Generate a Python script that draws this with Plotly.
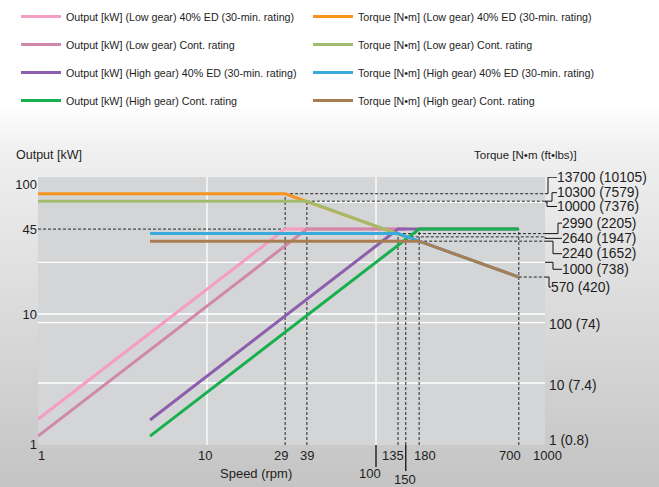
import math
import plotly.graph_objects as go

# ---------------- data ----------------
speed_low_40 = [1, 29, 150]
output_low_40 = [1.55, 45, 45]
speed_low_cont = [1, 39, 150]
output_low_cont = [1.15, 45, 45]
speed_high_40 = [4.6, 135, 700]
output_high_40 = [1.53, 45, 45]
speed_high_cont = [4.6, 180, 700]
output_high_cont = [1.15, 45, 45]

tq_speed_low_40 = [1, 29, 150]
torque_low_40 = [13700, 13700, 2640]
tq_speed_low_cont = [1, 39, 150]
torque_low_cont = [10300, 10300, 2640]
tq_speed_high_40 = [4.6, 135, 700]
torque_high_40 = [2990, 2990, 570]
tq_speed_high_cont = [4.6, 180, 700]
torque_high_cont = [2240, 2240, 570]

x_tick_vals = [1, 10, 29, 39, 135, 180, 700, 1000]
x_low_tick_vals = [100, 150]
x_grid_vals = [10, 100]
y_tick_vals = [1, 10, 45, 100]
y_grid_vals = [10]
torque_label_vals = [13700, 10300, 10000, 2990, 2640, 2240, 1000, 570, 100, 10, 1]
torque_label_text = ["13700 (10105)", "10300 (7579)", "10000 (7376)", "2990 (2205)",
                     "2640 (1947)", "2240 (1652)", "1000 (738)", "570 (420)",
                     "100 (74)", "10 (7.4)", "1 (0.8)"]
torque_grid_vals = [10, 100, 1000, 10000]
output_ref = 45

names_out = ["Output [kW] (Low gear) 40% ED (30-min. rating)",
             "Output [kW] (Low gear) Cont. rating",
             "Output [kW] (High gear) 40% ED (30-min. rating)",
             "Output [kW] (High gear) Cont. rating"]
names_tq = ["Torque [N\u2022m] (Low gear) 40% ED (30-min. rating)",
            "Torque [N\u2022m] (Low gear) Cont. rating",
            "Torque [N\u2022m] (High gear) 40% ED (30-min. rating)",
            "Torque [N\u2022m] (High gear) Cont. rating"]

# ---------------- style ----------------
W, H = 659, 487
ML, MR, MT, MB = 38, 114, 177, 42
PH = H - MT - MB
PW = W - ML - MR
FONT = "Liberation Sans, Arial, sans-serif"
TXT = "#1e1e1e"
DASH = dict(color="#262626", width=1, dash="3px,2px")
GRID = dict(color="#ffffff", width=1.3)
c_out = ["#f59dc3", "#d088a8", "#8c5ead", "#17b04e"]
c_tq = ["#f7941e", "#a0bb6c", "#3aa9db", "#a97d52"]
X_RANGE = [0, 3]
Y_RANGE = [-0.0077, 2.054]
Y2_RANGE = [-0.028, 4.414]

fig = go.Figure()

tq_series = [(tq_speed_low_40, torque_low_40), (tq_speed_low_cont, torque_low_cont),
             (tq_speed_high_40, torque_high_40), (tq_speed_high_cont, torque_high_cont)]
out_series = [(speed_low_40, output_low_40), (speed_low_cont, output_low_cont),
              (speed_high_40, output_high_40), (speed_high_cont, output_high_cont)]

for i, (sx, sy) in enumerate(tq_series):
    fig.add_trace(go.Scatter(x=sx, y=sy, yaxis="y2", mode="lines", name=names_tq[i],
                             line=dict(color=c_tq[i], width=3),
                             legend="legend2", legendgroup="t%d" % i))
for i, (sx, sy) in enumerate(out_series):
    fig.add_trace(go.Scatter(x=sx, y=sy, mode="lines", name=names_out[i],
                             line=dict(color=c_out[i], width=3),
                             legend="legend", legendgroup="o%d" % i))

shapes = []
# background gradient
stops = [(0, 255), (105, 255), (150, 240), (300, 220), (487, 196)]
def gray_at(yp):
    for (a, ga), (b, gb) in zip(stops[:-1], stops[1:]):
        if a <= yp <= b:
            return ga + (gb - ga) * (yp - a) / (b - a)
    return stops[-1][1]
band = 6
for yp in range(0, H, band):
    g = int(round(gray_at(yp + band / 2)))
    shapes.append(dict(type="rect", xref="paper", yref="paper", layer="below",
                       x0=-ML / PW - 0.05, x1=(W - ML) / PW + 0.05,
                       y0=(H - MB - yp) / PH + 0.002, y1=(H - MB - yp - band) / PH - 0.002,
                       fillcolor="rgb(%d,%d,%d)" % (g, g, g), line=dict(width=0)))
shapes.append(dict(type="rect", xref="paper", yref="paper", layer="below",
                   x0=0, x1=1, y0=0, y1=1, fillcolor="#d4d5d6", line=dict(width=0)))

# white grid lines
for v in x_grid_vals:
    shapes.append(dict(type="line", xref="x", yref="paper", x0=v, x1=v, y0=0, y1=1,
                       line=GRID, layer="below"))
for v in y_grid_vals:
    shapes.append(dict(type="line", xref="paper", yref="y", x0=0, x1=1, y0=v, y1=v,
                       line=GRID, layer="below"))
for v in torque_grid_vals:
    shapes.append(dict(type="line", xref="paper", yref="y2", x0=0, x1=1, y0=v, y1=v,
                       line=GRID, layer="below"))

ybot = 10 ** Y_RANGE[0]
y2bot = 10 ** Y2_RANGE[0]
xmax = 10 ** X_RANGE[1]
xmin = 10 ** X_RANGE[0]

def vline(xv, top, ref):
    bot = y2bot if ref == "y2" else ybot
    shapes.append(dict(type="line", xref="x", yref=ref, x0=xv, x1=xv, y0=bot, y1=top,
                       line=DASH, layer="below"))

def hline(x0, yv, ref, x1=xmax):
    shapes.append(dict(type="line", xref="x", yref=ref, x0=x0, x1=x1, y0=yv, y1=yv,
                       line=DASH, layer="below"))

# vertical dashed guides
vline(tq_speed_low_40[1], torque_low_40[1], "y2")
vline(tq_speed_low_cont[1], torque_low_cont[1], "y2")
vline(speed_high_40[1], output_ref, "y")
vline(tq_speed_low_40[2], torque_low_40[2], "y2")
vline(speed_high_cont[1], output_ref, "y")
vline(speed_high_cont[2], output_ref, "y")
# horizontal dashed guides
hline(xmin, output_ref, "y", x1=speed_low_40[1])
hline(tq_speed_low_40[1], torque_low_40[1], "y2")
hline(tq_speed_low_cont[1], torque_low_cont[1], "y2")
hline(tq_speed_high_40[1], torque_high_40[1], "y2")
hline(tq_speed_low_40[2], torque_low_40[2], "y2")
hline(tq_speed_high_cont[1], torque_high_cont[1], "y2")
hline(tq_speed_high_cont[2], torque_high_cont[2], "y2")

# right-hand labels: (bracket x px, label dy px, label x px)
right_style = {13700: (3, 16.5, 12), 10300: (7, 8.5, 12), 10000: (2, -4.5, 12),
               2990: (13, 10.5, 17), 2640: (0, -1.5, 17), 2240: (8, -12.5, 17),
               1000: (8, -7, 17), 570: (4, -10, 6), 100: (None, -2, 4),
               10: (None, -3, 4), 1: (None, 3, 4)}
annotations = []
for v, t in zip(torque_label_vals, torque_label_text):
    bx, dy, lx = right_style[v]
    if bx is not None:
        shapes.append(dict(type="path", xref="paper", yref="y2", xsizemode="pixel",
                           ysizemode="pixel", xanchor=1, yanchor=v,
                           path="M0,0 L%g,0 L%g,%g L%g,%g" % (bx, bx, dy, lx, dy),
                           line=dict(color="#111", width=1)))
    annotations.append(dict(xref="paper", x=1, xanchor="left", xshift=lx - 1,
                            yref="y2", y=math.log10(v), yanchor="middle", yshift=dy,
                            text=t, showarrow=False, borderpad=0,
                            font=dict(size=13.8, color=TXT)))

# x tick labels
x_shift = {1: 3, 10: -2, 29: -4, 39: 0, 135: -5, 180: 6, 700: -9, 1000: 2}
for v in x_tick_vals:
    annotations.append(dict(xref="x", x=math.log10(v), xanchor="center", xshift=x_shift[v],
                            yref="paper", y=0, yanchor="middle", yshift=-10,
                            text=str(v), showarrow=False, font=dict(size=13, color=TXT)))
low_style = {100: (-6, -28, -22), 150: (-1, -34, -26)}
for v in x_low_tick_vals:
    xs, ys, ll = low_style[v]
    shapes.append(dict(type="line", xref="x", yref="paper", x0=v, x1=v, y0=0, y1=ll / PH,
                       line=dict(color="#111", width=1.3)))
    annotations.append(dict(xref="x", x=math.log10(v), xanchor="center", xshift=xs,
                            yref="paper", y=0, yanchor="middle", yshift=ys, borderpad=0,
                            text=str(v), showarrow=False, font=dict(size=13, color=TXT)))

annotations.append(dict(xref="paper", x=0, xshift=218, xanchor="center", yref="paper", y=0,
                        yshift=-28, yanchor="middle", text="Speed (rpm)", showarrow=False,
                        font=dict(size=13, color=TXT)))
annotations.append(dict(xref="paper", x=0, xshift=-24, xanchor="left", yref="paper", y=1,
                        yshift=22, yanchor="middle", text="Output [kW]", showarrow=False,
                        font=dict(size=12.5, color=TXT)))
annotations.append(dict(xref="paper", x=1, xshift=34, xanchor="right", yref="paper", y=1,
                        yshift=22, yanchor="middle", text="Torque [N\u2022m (ft\u2022lbs)]",
                        showarrow=False, font=dict(size=11.5, color=TXT)))

legend_common = dict(xref="paper", yref="paper", xanchor="left", yanchor="top",
                     orientation="v", traceorder="grouped", tracegroupgap=9, itemwidth=40,
                     bgcolor="rgba(0,0,0,0)", font=dict(size=10.7, color=TXT, family=FONT))
leg_top = (H - MB - 2) / PH

fig.update_layout(
    width=W, height=H,
    margin=dict(l=ML, r=MR, t=MT, b=MB, pad=0, autoexpand=False),
    paper_bgcolor="#ffffff", plot_bgcolor="rgba(0,0,0,0)",
    font=dict(family=FONT, color=TXT),
    showlegend=True,
    legend=dict(x=(16 - ML) / PW, y=leg_top, **legend_common),
    legend2=dict(x=(308 - ML) / PW, y=leg_top, **legend_common),
    xaxis=dict(type="log", range=X_RANGE, showgrid=False, zeroline=False, showline=False,
               showticklabels=False, ticks="", automargin=False),
    yaxis=dict(type="log", range=Y_RANGE, showgrid=False, zeroline=False, showline=False,
               tickmode="array", tickvals=y_tick_vals, ticktext=[str(v) for v in y_tick_vals],
               ticks="", tickfont=dict(size=13, color=TXT), automargin=False),
    yaxis2=dict(type="log", range=Y2_RANGE, overlaying="y", side="right", showgrid=False,
                zeroline=False, showline=False, showticklabels=False, ticks="",
                automargin=False),
    shapes=shapes, annotations=annotations,
)

fig.write_html("out.html")
